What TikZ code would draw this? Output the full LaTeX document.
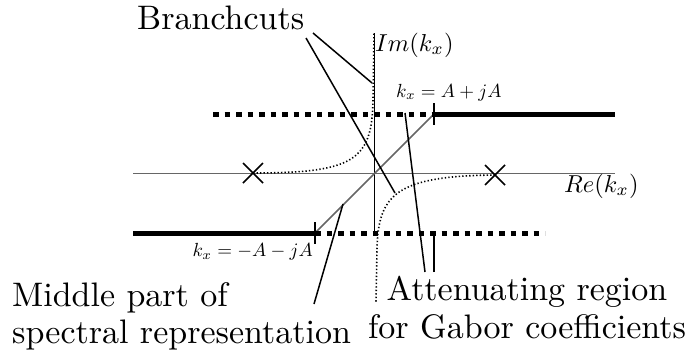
\documentclass[tikz,border=0pt]{standalone}
\usepackage{graphicx}
\usetikzlibrary{calc}
\newcommand{\bigtxt}[1]{\scalebox{3.4}{#1}}
\newcommand{\midtxt}[1]{\scalebox{2.45}{#1}}
\newcommand{\smalltxt}[1]{\scalebox{1.9}{#1}}
\begin{document}
\begin{tikzpicture}[x=1pt,y=-1pt,
  lbl/.style={font=\fontsize{10}{12}\selectfont, inner sep=0pt},
  thickcut/.style={line width=5pt},
  dashcut/.style={line width=5pt, dash pattern=on 5.5pt off 6pt},
  curve/.style={line width=1.6pt, dash pattern=on 1.3pt off 2.2pt},
  pointer/.style={line width=1.5pt},
  cross/.style={line width=1.5pt}]
\useasboundingbox (0,0) rectangle (687,354);
% coordinates
\coordinate (ax1) at (133,173);
\coordinate (ax2) at (615,173);
\coordinate (vy1) at (374,33);
\coordinate (vy2) at (374,233);
\coordinate (up1) at (213,114);
\coordinate (upt) at (434,114);
\coordinate (up2) at (615,114);
\coordinate (lo1) at (133,233);
\coordinate (lot) at (315,233);
\coordinate (lo2) at (545,233);
\coordinate (xl) at (253,173);
\coordinate (xr) at (495,175);
% axes
\draw[gray!80!black, line width=1pt] (ax1) -- (ax2);
\draw[black, line width=0.9pt] (vy1) -- (vy2);
\draw[gray!80!black, line width=1.5pt] (lot) -- (upt);
% branch lines
\draw[dashcut] (up1) -- (upt);
\draw[thickcut] (upt) -- (up2);
\draw[thickcut] (lo1) -- (lot);
\draw[dashcut] (lot) -- (lo2);
\draw[pointer] ($(upt)+(0,-11)$) -- ($(upt)+(0,11)$);
\draw[pointer] ($(lot)+(0,-11)$) -- ($(lot)+(0,11)$);
% curves
\draw[curve] (xl) .. controls (355,173) and (372,160) .. (373,100) -- (374,33);
\draw[curve] (xr) .. controls (395,176) and (378,195) .. (377,250) -- (376,303);
% crosses
\draw[cross] ($(xl)+(-10,-10)$) -- ($(xl)+(10,10)$) ($(xl)+(-10,10)$) -- ($(xl)+(10,-10)$);
\draw[cross] ($(xr)+(-10,-10)$) -- ($(xr)+(10,10)$) ($(xr)+(-10,10)$) -- ($(xr)+(10,-10)$);
% labels
\node[lbl, anchor=base west] (bc) at (137,29) {\bigtxt{Branchcuts}};
\node[lbl, anchor=west] (im) at (375,45) {\midtxt{$Im(k_x)$}};
\node[lbl, anchor=west] (re) at (564,186) {\midtxt{$Re(k_x)$}};
\node[lbl, anchor=south west] (la) at (396,101) {\smalltxt{$k_x=A+jA$}};
\node[lbl, anchor=north east] (lb) at (313,243) {\smalltxt{$k_x=-A-jA$}};
\node[lbl, anchor=base west] (mp) at (12,306) {\bigtxt{Middle part of}};
\node[lbl, anchor=base west] (mp2) at (12,343) {\bigtxt{spectral representation}};
\node[lbl, anchor=base] (at) at (527,300) {\bigtxt{Attenuating region}};
\node[lbl, anchor=base] (at2) at (527,338) {\bigtxt{for Gabor coefficients}};
% pointers
\coordinate (b1) at (313,33); \coordinate (b1e) at (372,83);
\coordinate (b2) at (306,38); \coordinate (b2e) at (395,193);
\draw[pointer] (b1) -- (b1e);
\draw[pointer] (b2) -- (b2e);
\coordinate (a1) at (425,272); \coordinate (a1e) at (405,113);
\coordinate (a2) at (434,272); \coordinate (a2e) at (434,234);
\draw[pointer] (a1) -- (a1e);
\draw[pointer] (a2) -- (a2e);
\coordinate (m1) at (314,304); \coordinate (m1e) at (343,204);
\draw[pointer] (m1) -- (m1e);
\end{tikzpicture}
\end{document}
